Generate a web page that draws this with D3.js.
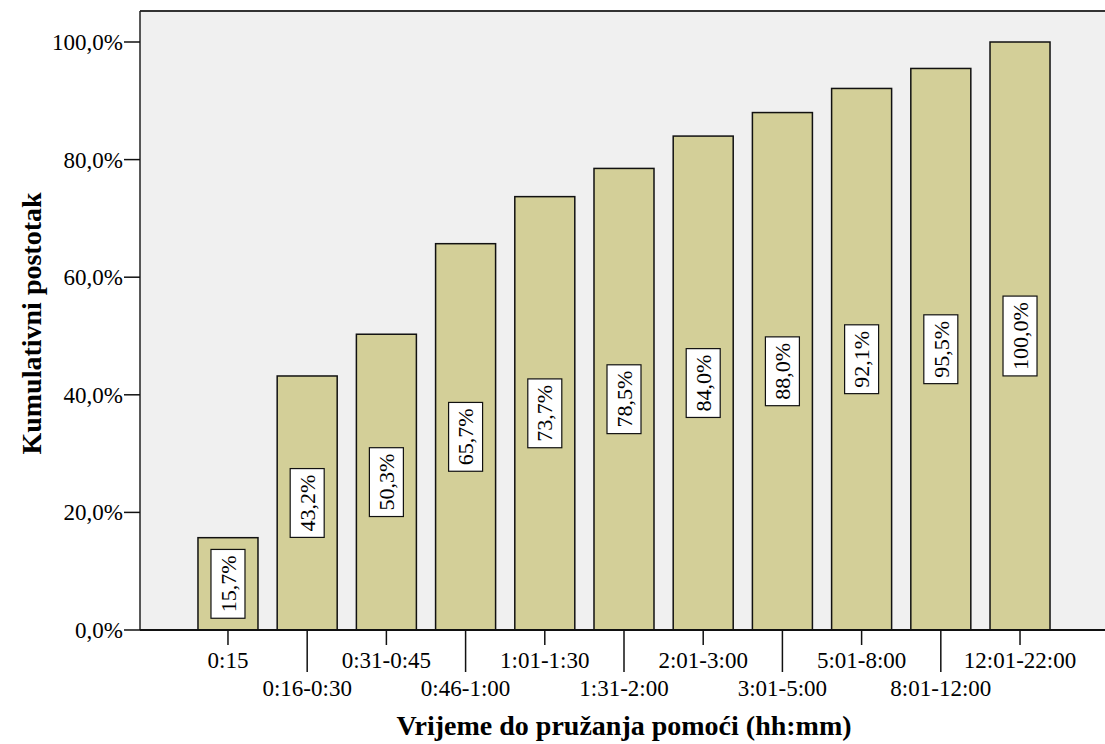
<!DOCTYPE html>
<html><head><meta charset="utf-8">
<script src="https://cdn.jsdelivr.net/npm/d3@7"></script>
<style>body{margin:0;background:#fff}svg{display:block;font-family:"Liberation Serif","Times New Roman",serif}</style>
</head><body><svg id="c" width="1105" height="744"></svg>
<script>
const categories = ["0:15","0:16-0:30","0:31-0:45","0:46-1:00","1:01-1:30","1:31-2:00","2:01-3:00","3:01-5:00","5:01-8:00","8:01-12:00","12:01-22:00"];
const values = [15.7,43.2,50.3,65.7,73.7,78.5,84.0,88.0,92.1,95.5,100.0];
const yTicks = [0,20,40,60,80,100];
const xTitle = "Vrijeme do pružanja pomoći (hh:mm)";
const yTitle = "Kumulativni postotak";

const svg = d3.select("#c");
const L=140, R=1108, T=11, B=630;
const fmt = v => v.toFixed(1).replace(".", ",") + "%";
const x = d3.scaleBand().domain(categories).range([L,R]).paddingInner(0.2424).paddingOuter(0.732);
const y = d3.scaleLinear().domain([0,100]).range([B,42]);

svg.append("rect").attr("x",L).attr("y",T).attr("width",R-L).attr("height",B-T).attr("fill","#f0f0f0");
svg.append("line").attr("x1",L).attr("x2",R).attr("y1",T).attr("y2",T).attr("stroke","#333").attr("stroke-width",2);
svg.append("line").attr("x1",L).attr("x2",L).attr("y1",T).attr("y2",B).attr("stroke","#222").attr("stroke-width",1.5);

svg.selectAll("rect.bar").data(values).join("rect").attr("class","bar")
  .attr("x",(d,i)=>x(categories[i])).attr("width",x.bandwidth())
  .attr("y",d=>y(d)).attr("height",d=>B-y(d))
  .attr("fill","#d3cf98").attr("stroke","#111").attr("stroke-width",1.5);

// labels
const lg = svg.selectAll("g.lab").data(values).join("g").attr("class","lab")
  .attr("transform",(d,i)=>`translate(${x(categories[i])+x.bandwidth()/2},${(y(d)+B)/2}) rotate(-90)`);
lg.each(function(d){
  const g=d3.select(this);
  const t=g.append("text").attr("text-anchor","middle").attr("dy","0.35em").attr("font-size",22).text(fmt(d));
  const w=t.node().getComputedTextLength();
  g.insert("rect","text").attr("x",-w/2-6).attr("y",-17).attr("width",w+12).attr("height",34).attr("fill","#fff").attr("stroke","#111").attr("stroke-width",1.2);
});

// y axis
const ya = svg.append("g");
yTicks.forEach(v=>{
  ya.append("line").attr("x1",124).attr("x2",L).attr("y1",y(v)).attr("y2",y(v)).attr("stroke","#111").attr("stroke-width",1.5);
  ya.append("text").attr("x",123).attr("y",y(v)).attr("dy","0.35em").attr("text-anchor","end").attr("font-size",23).text(fmt(v));
});

// x axis
svg.append("line").attr("x1",L).attr("x2",R).attr("y1",B).attr("y2",B).attr("stroke","#111").attr("stroke-width",2);
categories.forEach((c,i)=>{
  const cx=x(c)+x.bandwidth()/2;
  const odd=i%2===1;
  svg.append("line").attr("x1",cx).attr("x2",cx).attr("y1",B).attr("y2",odd?672:645).attr("stroke","#111").attr("stroke-width",1.5);
  svg.append("text").attr("x",cx).attr("y",odd?696:668).attr("text-anchor","middle").attr("font-size",23).text(c);
});

svg.append("text").attr("x",(L+R)/2).attr("y",735).attr("text-anchor","middle").attr("font-size",28).attr("font-weight","bold").text(xTitle);
svg.append("text").attr("transform",`translate(41,${(T+B)/2+3}) rotate(-90)`).attr("text-anchor","middle").attr("font-size",28).attr("font-weight","bold").text(yTitle);
</script></body></html>
